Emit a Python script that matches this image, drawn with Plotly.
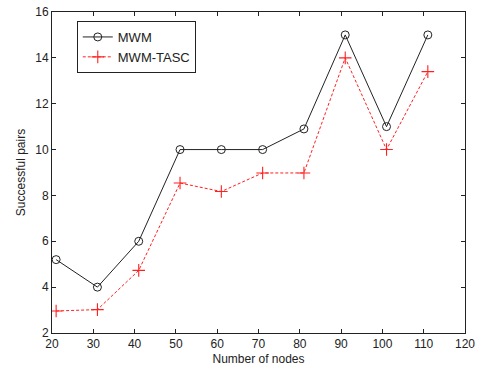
import plotly.graph_objects as go

nodes = [21, 31, 41, 51, 61, 71, 81, 91, 101, 111]
mwm = [5.2, 4.0, 6.0, 10.0, 10.0, 10.0, 10.9, 15.0, 11.0, 15.0]
mwm_tasc = [2.96, 3.02, 4.73, 8.54, 8.17, 8.98, 8.98, 14.0, 10.0, 13.4]

x_ticks = [20, 30, 40, 50, 60, 70, 80, 90, 100, 110, 120]
y_ticks = [2, 4, 6, 8, 10, 12, 14, 16]

FONT = "Liberation Sans, Arial"
INK = "#222222"

fig = go.Figure()
fig.add_trace(go.Scatter(
    x=nodes, y=mwm, name="MWM", mode="lines+markers",
    line=dict(color=INK, width=1),
    marker=dict(symbol="circle-open", size=8, color=INK, line=dict(width=1)),
))
fig.add_trace(go.Scatter(
    x=nodes, y=mwm_tasc, name="MWM-TASC", mode="lines+markers",
    line=dict(color="#ff2020", width=1, dash="3px,2px"),
    marker=dict(symbol="cross-thin-open", size=9, color="#ff2020", line=dict(width=1.1, color="#ff2020")),
))

axis_common = dict(
    showgrid=False, zeroline=False, showline=True, linecolor=INK, linewidth=1,
    mirror="ticks", ticks="inside", ticklen=4, tickcolor=INK, automargin=False,
    tickfont=dict(family=FONT, size=12, color=INK),
)
fig.update_xaxes(range=[20, 120], tickvals=x_ticks,
                 title=dict(text="Number of nodes", standoff=4,
                            font=dict(family=FONT, size=12, color=INK)),
                 **axis_common)
fig.update_yaxes(range=[2, 16], tickvals=y_ticks,
                 title=dict(text="Successful pairs", standoff=7,
                            font=dict(family=FONT, size=12, color=INK)),
                 **axis_common)

fig.update_layout(
    width=481, height=370,
    margin=dict(l=52, r=16, t=12, b=37, autoexpand=False),
    paper_bgcolor="white", plot_bgcolor="white",
    showlegend=True,
    legend=dict(x=0.06, y=0.972, xanchor="left", yanchor="top",
                bordercolor=INK, borderwidth=1, bgcolor="white",
                font=dict(family=FONT, size=13, color=INK),
                tracegroupgap=0, itemwidth=30),
)

fig.write_html("out.html",
               config={"displayModeBar": False},
               post_script="document.body.style.margin='0';document.body.style.overflow='hidden';")
